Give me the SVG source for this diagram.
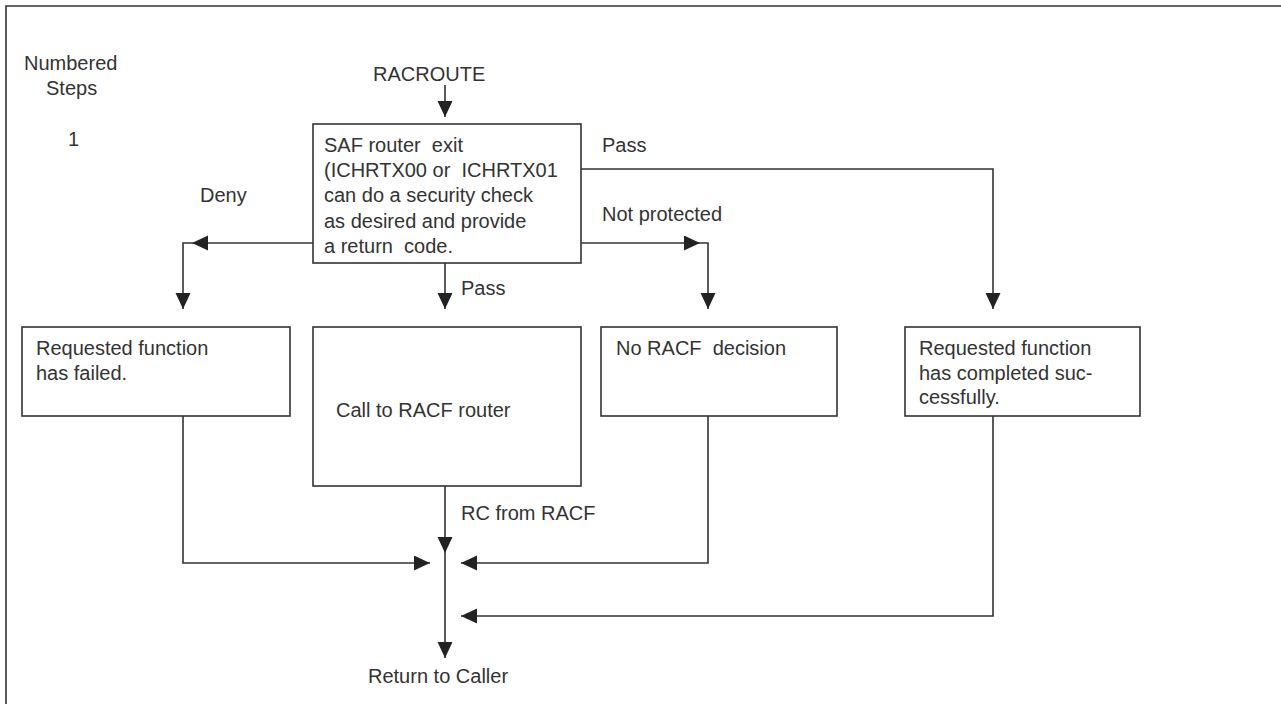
<svg xmlns="http://www.w3.org/2000/svg" width="1281" height="704" viewBox="0 0 1281 704">
<defs>
<marker id="ah" markerUnits="userSpaceOnUse" markerWidth="17" markerHeight="17" refX="16" refY="7.5" orient="auto">
<path d="M0,0 L16,7.5 L0,15 Z" fill="#222"/>
</marker>
<style>
text{font-family:"Liberation Sans",Arial,sans-serif;font-size:20px;fill:#333;white-space:pre}
.box{fill:#fff;stroke:#333;stroke-width:1.6}
.ln{fill:none;stroke:#333;stroke-width:1.6}
.ar{fill:none;stroke:#333;stroke-width:1.6;marker-end:url(#ah)}
</style>
</defs>
<rect width="1281" height="704" fill="#fff"/>
<path class="ln" d="M6,704 V6 H1281" stroke-width="2"/>
<g id="legend">
<text x="24" y="70">Numbered</text>
<text x="46" y="95">Steps</text>
<text x="68" y="146">1</text>
</g>
<g id="racroute"><text x="373" y="81">RACROUTE</text></g>
<g id="saf-exit">
<rect class="box" x="313" y="124" width="268" height="139"/>
<text x="324" y="152" xml:space="preserve">SAF router  exit</text>
<text x="324" y="177" xml:space="preserve">(ICHRTX00 or  ICHRTX01</text>
<text x="324" y="202">can do a security check</text>
<text x="324" y="228">as desired and provide</text>
<text x="324" y="253" xml:space="preserve">a return  code.</text>
</g>
<g id="failed">
<rect class="box" x="22" y="327" width="268" height="89"/>
<text x="36" y="355">Requested function</text>
<text x="36" y="380">has failed.</text>
</g>
<g id="racf-router">
<rect class="box" x="313" y="327" width="268" height="159"/>
<text x="336" y="417">Call to RACF router</text>
</g>
<g id="no-decision">
<rect class="box" x="601" y="327" width="236" height="89"/>
<text x="616" y="355" xml:space="preserve">No RACF  decision</text>
</g>
<g id="completed">
<rect class="box" x="905" y="327" width="235" height="89"/>
<text x="919" y="355">Requested function</text>
<text x="919" y="380">has completed suc-</text>
<text x="919" y="404">cessfully.</text>
</g>
<g id="return"><text x="368" y="683">Return to Caller</text></g>
<g id="connectors">
<path class="ar" d="M445,85 V117"/>
<path class="ar" d="M445,263 V309"/>
<path class="ar" d="M313,243 H192"/>
<path class="ar" d="M192,243 H183 V309"/>
<path class="ar" d="M581,243 H700"/>
<path class="ar" d="M700,243 H708 V309"/>
<path class="ar" d="M581,169 H993 V309"/>
<path class="ar" d="M183,416 V563 H430"/>
<path class="ar" d="M708,416 V563 H461"/>
<path class="ar" d="M993,416 V616 H461"/>
<path class="ar" d="M445,486 V553"/>
<path class="ar" d="M445,553 V658"/>
<text x="461" y="295">Pass</text>
<text x="602" y="152">Pass</text>
<text x="200" y="202">Deny</text>
<text x="602" y="221">Not protected</text>
<text x="461" y="520">RC from RACF</text>
</g>
</svg>
